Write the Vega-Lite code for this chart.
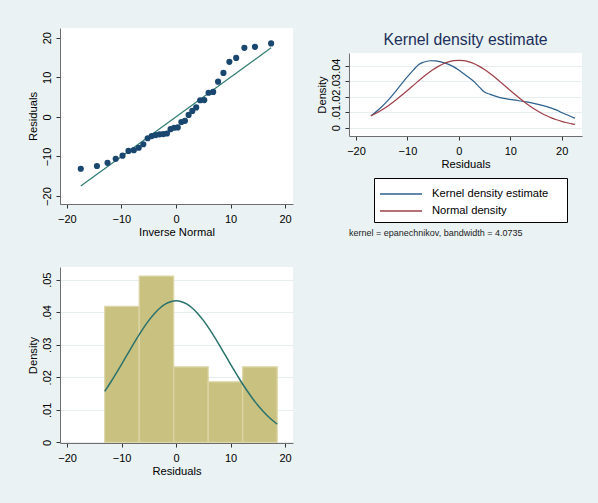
{
  "$schema": "https://vega.github.io/schema/vega-lite/v6.json",
  "background": "#EAF2F3",
  "padding": {"left": 27, "top": 28, "right": 16, "bottom": 42},
  "spacing": 29,
  "config": {
    "font": "Liberation Sans",
    "view": {"fill": "white", "stroke": null},
    "axis": {
      "labelFont": "Liberation Sans", "labelFontSize": 11, "labelColor": "#000",
      "titleFont": "Liberation Sans", "titleFontSize": 11.2, "titleFontWeight": "normal", "titleColor": "#000",
      "domainColor": "#6E6E6E", "tickColor": "#333", "tickSize": 4, "grid": false,
      "labelOverlap": false, "labelBound": false, "labelFlush": false, "gridColor": "#E6EEF0", "gridWidth": 1
    },
    "axisY": {"labelAngle": 270, "labelPadding": 4, "titlePadding": 3},
    "axisX": {"labelPadding": 5, "titlePadding": 2}
  },
  "vconcat": [
    {
      "spacing": 23,
      "hconcat": [
        {
          "width": 233, "height": 176,
          "encoding": {
            "x": {"field": "invnorm", "type": "quantitative", "scale": {"domain": [-21.25, 21.45], "nice": false, "zero": false}, "axis": {"values": [-20, -10, 0, 10, 20], "title": "Inverse Normal", "labelOverlap": false}},
            "y": {"field": "resid", "type": "quantitative", "scale": {"domain": [-22.0, 22.45], "nice": false, "zero": false}, "axis": {"values": [-20, -10, 0, 10, 20], "title": "Residuals", "labelOverlap": false}}
          },
          "layer": [
            {
              "data": {"values": [{"invnorm": -17.44, "resid": -17.44}, {"invnorm": 17.44, "resid": 17.44}]},
              "mark": {"type": "line", "color": "#2E7B6F", "strokeWidth": 1.2}
            },
            {
              "data": {"values": [
                {"invnorm": -17.44, "resid": -13.1}, {"invnorm": -14.48, "resid": -12.4}, {"invnorm": -12.54, "resid": -11.6},
                {"invnorm": -11.04, "resid": -10.6}, {"invnorm": -9.79, "resid": -9.8}, {"invnorm": -8.70, "resid": -8.6},
                {"invnorm": -7.72, "resid": -8.4}, {"invnorm": -6.82, "resid": -7.8}, {"invnorm": -5.98, "resid": -6.9},
                {"invnorm": -5.19, "resid": -5.4}, {"invnorm": -4.44, "resid": -4.85}, {"invnorm": -3.71, "resid": -4.6},
                {"invnorm": -3.00, "resid": -4.4}, {"invnorm": -2.32, "resid": -4.35}, {"invnorm": -1.65, "resid": -4.2},
                {"invnorm": -0.99, "resid": -3.1}, {"invnorm": -0.33, "resid": -2.75}, {"invnorm": 0.33, "resid": -2.65},
                {"invnorm": 0.99, "resid": -1.3}, {"invnorm": 1.65, "resid": -1.0}, {"invnorm": 2.32, "resid": 0.5},
                {"invnorm": 3.00, "resid": 1.5}, {"invnorm": 3.71, "resid": 2.4}, {"invnorm": 4.44, "resid": 4.2},
                {"invnorm": 5.19, "resid": 4.25}, {"invnorm": 5.98, "resid": 6.1}, {"invnorm": 6.82, "resid": 6.3},
                {"invnorm": 7.72, "resid": 8.9}, {"invnorm": 8.70, "resid": 11.1}, {"invnorm": 9.79, "resid": 13.9},
                {"invnorm": 11.04, "resid": 14.9}, {"invnorm": 12.54, "resid": 17.45}, {"invnorm": 14.48, "resid": 17.7},
                {"invnorm": 17.44, "resid": 18.55}
              ]},
              "mark": {"type": "circle", "size": 38, "color": "#1A476F", "opacity": 1}
            }
          ]
        },
        {
          "spacing": 0,
          "vconcat": [
            {
              "width": 233, "height": 4,
              "data": {"values": []},
              "mark": {"type": "point", "opacity": 0},
              "view": {"fill": "transparent", "stroke": null}
            },
            {
              "width": 233, "height": 83,
              "title": {"text": "Kernel density estimate", "fontSize": 15.8, "font": "Liberation Sans", "fontWeight": "normal", "color": "#1C2F5B", "anchor": "middle", "baseline": "bottom", "offset": -11},
              "data": {"values": [
                {"series": "Kernel density estimate", "x": -17.1, "density": 0.0075},
                {"series": "Kernel density estimate", "x": -15.3, "density": 0.0125},
                {"series": "Kernel density estimate", "x": -13.7, "density": 0.0179},
                {"series": "Kernel density estimate", "x": -12.1, "density": 0.0243},
                {"series": "Kernel density estimate", "x": -10.1, "density": 0.0325},
                {"series": "Kernel density estimate", "x": -8.85, "density": 0.0372},
                {"series": "Kernel density estimate", "x": -7.9, "density": 0.0405},
                {"series": "Kernel density estimate", "x": -6.9, "density": 0.0422},
                {"series": "Kernel density estimate", "x": -5.6, "density": 0.0432},
                {"series": "Kernel density estimate", "x": -4.5, "density": 0.0431},
                {"series": "Kernel density estimate", "x": -3.66, "density": 0.0426},
                {"series": "Kernel density estimate", "x": -2.35, "density": 0.0413},
                {"series": "Kernel density estimate", "x": -1.07, "density": 0.0394},
                {"series": "Kernel density estimate", "x": 0.23, "density": 0.0366},
                {"series": "Kernel density estimate", "x": 1.54, "density": 0.0334},
                {"series": "Kernel density estimate", "x": 2.82, "density": 0.0301},
                {"series": "Kernel density estimate", "x": 4.1, "density": 0.0258},
                {"series": "Kernel density estimate", "x": 4.9, "density": 0.0232},
                {"series": "Kernel density estimate", "x": 6.1, "density": 0.0215},
                {"series": "Kernel density estimate", "x": 8.0, "density": 0.0194},
                {"series": "Kernel density estimate", "x": 10.6, "density": 0.0179},
                {"series": "Kernel density estimate", "x": 13.2, "density": 0.0166},
                {"series": "Kernel density estimate", "x": 15.2, "density": 0.0152},
                {"series": "Kernel density estimate", "x": 17.1, "density": 0.0136},
                {"series": "Kernel density estimate", "x": 18.8, "density": 0.0116},
                {"series": "Kernel density estimate", "x": 20.3, "density": 0.0093},
                {"series": "Kernel density estimate", "x": 22.6, "density": 0.0061},
                {"series": "Normal density", "x": -17.1, "density": 0.00765},
                {"series": "Normal density", "x": -16, "density": 0.0095},
                {"series": "Normal density", "x": -15, "density": 0.01141},
                {"series": "Normal density", "x": -14, "density": 0.01356},
                {"series": "Normal density", "x": -13, "density": 0.01593},
                {"series": "Normal density", "x": -12, "density": 0.01848},
                {"series": "Normal density", "x": -11, "density": 0.02119},
                {"series": "Normal density", "x": -10, "density": 0.024},
                {"series": "Normal density", "x": -9, "density": 0.02687},
                {"series": "Normal density", "x": -8, "density": 0.02973},
                {"series": "Normal density", "x": -7, "density": 0.03251},
                {"series": "Normal density", "x": -6, "density": 0.03512},
                {"series": "Normal density", "x": -5, "density": 0.03749},
                {"series": "Normal density", "x": -4, "density": 0.03955},
                {"series": "Normal density", "x": -3, "density": 0.04123},
                {"series": "Normal density", "x": -2, "density": 0.04248},
                {"series": "Normal density", "x": -1, "density": 0.04324},
                {"series": "Normal density", "x": 0, "density": 0.0435},
                {"series": "Normal density", "x": 1, "density": 0.04324},
                {"series": "Normal density", "x": 2, "density": 0.04248},
                {"series": "Normal density", "x": 3, "density": 0.04123},
                {"series": "Normal density", "x": 4, "density": 0.03955},
                {"series": "Normal density", "x": 5, "density": 0.03749},
                {"series": "Normal density", "x": 6, "density": 0.03512},
                {"series": "Normal density", "x": 7, "density": 0.03251},
                {"series": "Normal density", "x": 8, "density": 0.02973},
                {"series": "Normal density", "x": 9, "density": 0.02687},
                {"series": "Normal density", "x": 10, "density": 0.024},
                {"series": "Normal density", "x": 11, "density": 0.02119},
                {"series": "Normal density", "x": 12, "density": 0.01848},
                {"series": "Normal density", "x": 13, "density": 0.01593},
                {"series": "Normal density", "x": 14, "density": 0.01356},
                {"series": "Normal density", "x": 15, "density": 0.01141},
                {"series": "Normal density", "x": 16, "density": 0.0095},
                {"series": "Normal density", "x": 17, "density": 0.0078},
                {"series": "Normal density", "x": 18, "density": 0.00634},
                {"series": "Normal density", "x": 19, "density": 0.00509},
                {"series": "Normal density", "x": 20, "density": 0.00403},
                {"series": "Normal density", "x": 21, "density": 0.00316},
                {"series": "Normal density", "x": 22, "density": 0.00245},
                {"series": "Normal density", "x": 22.6, "density": 0.00209}
              ]},
              "mark": {"type": "line", "strokeWidth": 1.2, "interpolate": "monotone"},
              "encoding": {
                "x": {"field": "x", "type": "quantitative", "scale": {"domain": [-21.36, 23.95], "nice": false, "zero": false}, "axis": {"values": [-20, -10, 0, 10, 20], "title": "Residuals", "labelOverlap": false}},
                "y": {"field": "density", "type": "quantitative", "scale": {"domain": [-0.0054, 0.0482], "nice": false, "zero": false}, "axis": {"values": [0, 0.01, 0.02, 0.03, 0.04], "title": "Density", "grid": true, "labelOverlap": false, "labelExpr": "datum.value == 0 ? '0' : replace(format(datum.value, '.2f'), '0.', '.')"}},
                "color": {
                  "field": "series", "type": "nominal",
                  "scale": {"domain": ["Kernel density estimate", "Normal density"], "range": ["#2D5F8C", "#9E3F47"]},
                  "legend": {
                    "orient": "none", "legendX": 314, "legendY": 150, "title": null, "direction": "vertical",
                    "symbolType": "M-1,0H3.2", "symbolSize": 400, "symbolStrokeWidth": 1.3,
                    "labelOffset": 31, "padding": 5, "rowPadding": 0,
                    "strokeColor": "#000", "fillColor": "#fff",
                    "labelFontSize": 11.2, "labelFont": "Liberation Sans", "labelColor": "#000",
                    "labelExpr": "datum.label + '\u2003\u2009\u200b'"
                  }
                }
              }
            },
            {
              "width": 233, "height": 58,
              "data": {"values": []},
              "mark": {"type": "point", "opacity": 0},
              "view": {"fill": "transparent", "stroke": null},
              "title": {"text": "kernel = epanechnikov, bandwidth = 4.0735", "orient": "bottom", "anchor": "start", "fontSize": 9, "font": "Liberation Sans", "fontWeight": "normal", "color": "#222", "baseline": "top", "offset": 1}
            }
          ]
        }
      ]
    },
    {
      "width": 233, "height": 176,
      "encoding": {
        "x": {"field": "x", "type": "quantitative", "scale": {"domain": [-21.3, 21.45], "nice": false, "zero": false}, "axis": {"values": [-20, -10, 0, 10, 20], "title": "Residuals", "labelOverlap": false}},
        "y": {"field": "density", "type": "quantitative", "scale": {"domain": [-0.0002, 0.0539], "nice": false, "zero": false}, "axis": {"values": [0, 0.01, 0.02, 0.03, 0.04, 0.05], "title": "Density", "grid": true, "labelOverlap": false, "labelExpr": "datum.value == 0 ? '0' : replace(format(datum.value, '.2f'), '0.', '.')"}}
      },
      "layer": [
        {
          "data": {"values": [
            {"x": -13.1, "end": -6.77, "density": 0.04182},
            {"x": -6.77, "end": -0.44, "density": 0.05111},
            {"x": -0.44, "end": 5.89, "density": 0.02323},
            {"x": 5.89, "end": 12.22, "density": 0.01859},
            {"x": 12.22, "end": 18.55, "density": 0.02323}
          ]},
          "mark": {"type": "rect", "fill": "#C9C180", "stroke": "#DCD6A8", "strokeWidth": 1.2},
          "encoding": {
            "x2": {"field": "end"},
            "y2": {"datum": 0}
          }
        },
        {
          "data": {"values": [
            {"x": -13.1, "density": 0.01569}, {"x": -12, "density": 0.01848}, {"x": -11, "density": 0.02119},
            {"x": -10, "density": 0.024}, {"x": -9, "density": 0.02687}, {"x": -8, "density": 0.02973},
            {"x": -7, "density": 0.03251}, {"x": -6, "density": 0.03512}, {"x": -5, "density": 0.03749},
            {"x": -4, "density": 0.03955}, {"x": -3, "density": 0.04123}, {"x": -2, "density": 0.04248},
            {"x": -1, "density": 0.04324}, {"x": 0, "density": 0.0435}, {"x": 1, "density": 0.04324},
            {"x": 2, "density": 0.04248}, {"x": 3, "density": 0.04123}, {"x": 4, "density": 0.03955},
            {"x": 5, "density": 0.03749}, {"x": 6, "density": 0.03512}, {"x": 7, "density": 0.03251},
            {"x": 8, "density": 0.02973}, {"x": 9, "density": 0.02687}, {"x": 10, "density": 0.024},
            {"x": 11, "density": 0.02119}, {"x": 12, "density": 0.01848}, {"x": 13, "density": 0.01593},
            {"x": 14, "density": 0.01356}, {"x": 15, "density": 0.01141}, {"x": 16, "density": 0.0095},
            {"x": 17, "density": 0.0078}, {"x": 18, "density": 0.00634}, {"x": 18.55, "density": 0.00562}
          ]},
          "mark": {"type": "line", "color": "#2A726C", "strokeWidth": 1.5, "interpolate": "monotone"}
        }
      ]
    }
  ]
}
